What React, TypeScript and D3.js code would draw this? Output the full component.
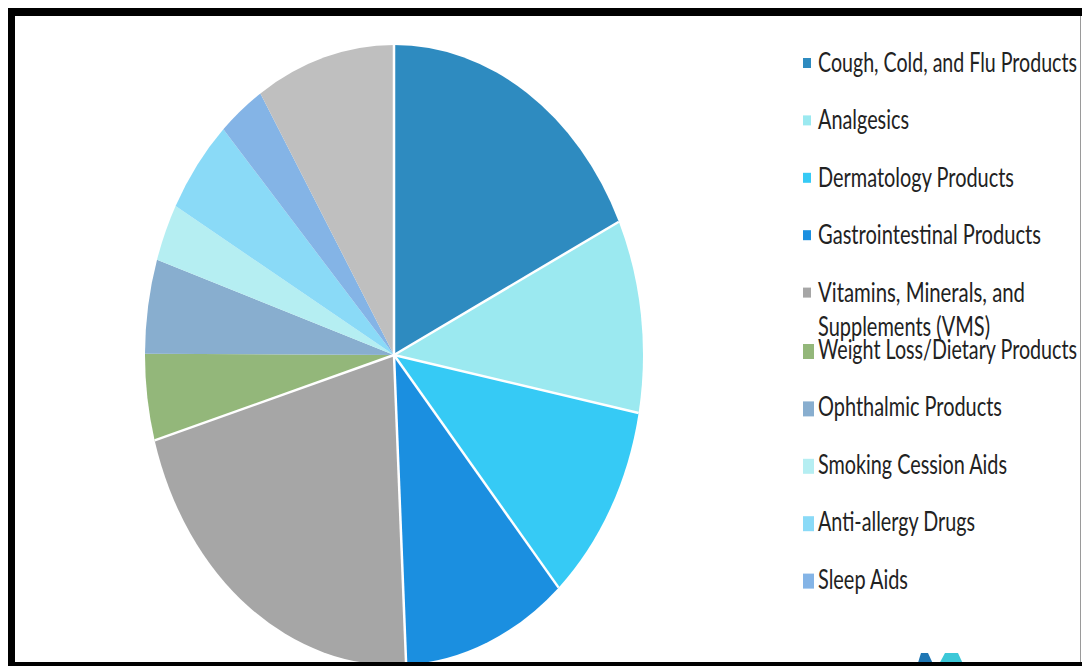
import React from "react";
import * as d3 from "d3";

const categories = [
  "Cough, Cold, and Flu Products",
  "Analgesics",
  "Dermatology Products",
  "Gastrointestinal Products",
  "Vitamins, Minerals, and Supplements (VMS)",
  "Weight Loss/Dietary Products",
  "Ophthalmic Products",
  "Smoking Cession Aids",
  "Anti-allergy Drugs",
  "Sleep Aids",
  "Others",
];
const values = [17.9, 10.05, 10.5, 10.7, 21.3, 4.5, 4.9, 3.0, 5.0, 3.0, 9.0];
const colors = [
  "#2E8BC0", "#9BE9F0", "#36CAF5", "#1B8FE0", "#A6A6A6", "#93B77A",
  "#88AECF", "#B5EEF2", "#8ADAF7", "#84B4E6", "#BFBFBF",
];
// legend rows (the last slice is not in the visible legend)
const legendLines = [
  ["Cough, Cold, and Flu Products"],
  ["Analgesics"],
  ["Dermatology Products"],
  ["Gastrointestinal Products"],
  ["Vitamins, Minerals, and", "Supplements (VMS)"],
  ["Weight Loss/Dietary Products"],
  ["Ophthalmic Products"],
  ["Smoking Cession Aids"],
  ["Anti-allergy Drugs"],
  ["Sleep Aids"],
];
const legendWidths = [
  [259],
  [91],
  [196],
  [223],
  [207, 172],
  [259],
  [184],
  [189],
  [157],
  [90],
];

export default function App() {
  const W = 1082;
  const H = 666;
  const cx = 394;
  const cy = 355;
  const rx = 249;
  const ry = 310;
  const sy = ry / rx;

  const data = categories.map((c, i) => ({ name: c, value: values[i], color: colors[i] }));
  const pie = d3.pie<any>().sort(null).value((d: any) => d.value);
  const arcs = pie(data);
  const arc = d3.arc<any>().innerRadius(0).outerRadius(rx);

  const legendX = 803;
  const textX = 818;
  const baseY = 72;
  const step = 57.4;

  return (
    <svg
      width={W}
      height={H}
      style={{ position: "absolute", left: 0, top: 0, display: "block" }}
    >
      <rect x={0} y={0} width={W} height={H} fill="#ffffff" />
      <g transform={`translate(${cx},${cy}) scale(1,${sy})`}>
        {arcs.map((a, i) => (
          <path key={i} d={arc(a) as string} fill={a.data.color} />
        ))}
        {arcs.slice(0, 6).map((a, i) => {
          const [px, py] = d3.pointRadial(a.startAngle, rx);
          return (
            <line
              key={"l" + i}
              x1={0}
              y1={0}
              x2={px}
              y2={py}
              stroke="#ffffff"
              strokeWidth={2.5}
              vectorEffect="non-scaling-stroke"
            />
          );
        })}
      </g>

      <g fontFamily="Lato, 'Open Sans', sans-serif" fontSize={22} fill="#222222">
        {legendLines.map((lines, i) => {
          const by = baseY + step * i;
          const big = i >= 5;
          const sw = big ? 11 : 8;
          const sh = big ? 15 : 10;
          const sc = big ? by - 7.5 : by - 9;
          return (
            <g key={i}>
              <rect x={legendX} y={sc - sh / 2} width={sw} height={sh} fill={colors[i]} />
              {lines.map((t, j) => (
                <g key={j} transform={`translate(${textX},${by + j * 34}) scale(1,1.2)`}>
                  <text
                    x={0}
                    y={0}
                    textLength={legendWidths[i][j]}
                    lengthAdjust="spacingAndGlyphs"
                  >
                    {t}
                  </text>
                </g>
              ))}
            </g>
          );
        })}
      </g>

      {/* partial logo at bottom */}
      <path d="M917,666 L921,653 L928,653 L934,666 Z" fill="#1F77B4" />
      <path d="M938,666 L945,653 L958,653 L964,666 Z" fill="#3CC8D8" />

      {/* frame */}
      <line x1={1080.5} y1={16} x2={1080.5} y2={662} stroke="#9a9a9a" strokeWidth={1} />
      <rect x={8} y={8} width={W - 8} height={8} fill="#000" />
      <rect x={8} y={8} width={7} height={H - 8} fill="#000" />
      <rect x={8} y={662} width={W - 8} height={4} fill="#000" />
    </svg>
  );
}
